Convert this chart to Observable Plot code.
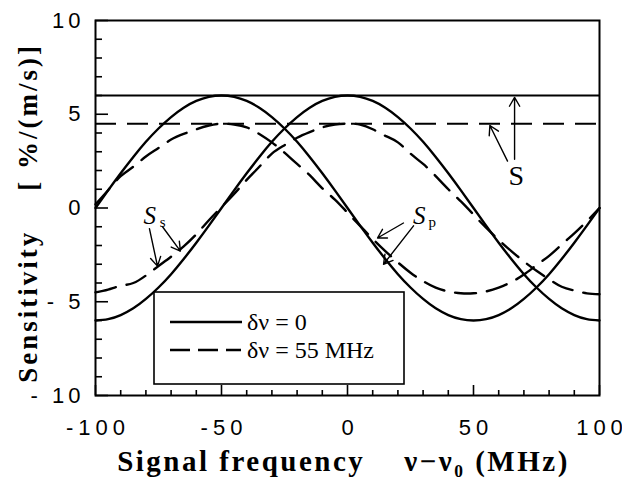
<!DOCTYPE html>
<html><head><meta charset="utf-8">
<script src="https://cdn.jsdelivr.net/npm/d3@7"></script>
<script src="https://cdn.jsdelivr.net/npm/@observablehq/plot@0.6"></script>
<style>
body{margin:0;background:#fff;}
#chart{position:relative;width:622px;height:486px;}
</style></head><body><div id="chart"></div>
<script>
// Signal frequency ν−ν0 (MHz)
const freq = [-100,-95,-90,-85,-80,-75,-70,-65,-60,-55,-50,-45,-40,-35,-30,-25,-20,-15,-10,-5,0,5,10,15,20,25,30,35,40,45,50,55,60,65,70,75,80,85,90,95,100];
// δν = 0 (solid)
const ssSolid = [0,0.94,1.85,2.72,3.53,4.24,4.85,5.35,5.71,5.93,6,5.93,5.71,5.35,4.85,4.24,3.53,2.72,1.85,0.94,0,-0.94,-1.85,-2.72,-3.53,-4.24,-4.85,-5.35,-5.71,-5.93,-6,-5.93,-5.71,-5.35,-4.85,-4.24,-3.53,-2.72,-1.85,-0.94,0];
const spSolid = [-6,-5.93,-5.71,-5.35,-4.85,-4.24,-3.53,-2.72,-1.85,-0.94,0,0.94,1.85,2.72,3.53,4.24,4.85,5.35,5.71,5.93,6,5.93,5.71,5.35,4.85,4.24,3.53,2.72,1.85,0.94,0,-0.94,-1.85,-2.72,-3.53,-4.24,-4.85,-5.35,-5.71,-5.93,-6];
// δν = 55 MHz (dashed)
const ssDash = [0.2,0.95,1.7,2.2,2.75,3.2,3.65,3.95,4.2,4.4,4.5,4.45,4.3,3.95,3.5,2.95,2.35,1.75,1.05,0.45,-0.25,-0.95,-1.65,-2.3,-2.9,-3.45,-3.9,-4.25,-4.45,-4.55,-4.55,-4.45,-4.25,-3.95,-3.55,-3.05,-2.55,-1.95,-1.35,-0.7,0.0];
const spDash = [-4.5,-4.35,-4.15,-4.0,-3.6,-3.1,-2.6,-2.05,-1.4,-0.65,0.05,0.75,1.5,2.2,2.9,3.35,3.75,4.05,4.3,4.45,4.5,4.45,4.2,3.85,3.5,2.9,2.35,1.7,1.0,0.35,-0.35,-1.05,-1.7,-2.3,-2.85,-3.35,-3.8,-4.2,-4.4,-4.55,-4.6];
// total sensitivity S
const sTotalSolid = [6];
const sTotalDash = [4.5];

// ticks
const xMajor = [-100,-50,0,50,100];
const xMinor = [-90,-80,-70,-60,-40,-30,-20,-10,10,20,30,40,60,70,80,90];
const yMajor = [-10,-5,0,5,10];
const yMinor = [-9,-8,-7,-6,-4,-3,-2,-1,1,2,3,4,6,7,8,9];

// annotations
const labelS = [{x:67, y:1.7, t:"S"}];
const labelSub = [{x:-78.5, y:-0.4, t:"S", sub:"s"}, {x:28.5, y:-0.4, t:"S", sub:"p"}];
const arrows = [
  {x1:66.3,y1:2.6,x2:66.3,y2:5.9},
  {x1:63.5,y1:2.5,x2:56.5,y2:4.4},
  {x1:-78.6,y1:-1.1,x2:-75.4,y2:-3.1},
  {x1:-73.4,y1:-1.0,x2:-66.3,y2:-2.3},
  {x1:22.2,y1:-0.8,x2:11.9,y2:-1.6},
  {x1:26.2,y1:-0.95,x2:14.3,y2:-3.0}
];
const xTitle = "Signal frequency\u00a0\u00a0\u00a0\u00a0ν−ν\u2080 (MHz)";
const yTitle = "Sensitivity\u00a0\u00a0\u00a0\u00a0[\u00a0%/(m/s)]";
const legendItems = ["δν = 0", "δν = 55 MHz"];

const solidRows = [], dashRows = [];
freq.forEach((f,i) => {
  solidRows.push({x:f, y:ssSolid[i], k:"Ss"});
  dashRows.push({x:f, y:ssDash[i], k:"Ss"});
});
freq.forEach((f,i) => {
  solidRows.push({x:f, y:spSolid[i], k:"Sp"});
  dashRows.push({x:f, y:spDash[i], k:"Sp"});
});

const tickFmtY = d => d < 0 ? "-\u00a0" + Math.abs(d) : String(d);

const plot = Plot.plot({
  width: 622, height: 486,
  marginLeft: 95, marginRight: 23, marginTop: 20, marginBottom: 91,
  x: {domain: [-100, 100]},
  y: {domain: [-10, 10]},
  style: {fontFamily: "Liberation Sans", background: "white", color: "black"},
  marks: [
    Plot.ruleY(sTotalSolid, {stroke: "black", strokeWidth: 2}),
    Plot.ruleY(sTotalDash, {stroke: "black", strokeWidth: 2, strokeDasharray: "21,11"}),
    Plot.line(solidRows, {x: "x", y: "y", z: "k", curve: "natural", stroke: "black", strokeWidth: 2.4}),
    Plot.line(dashRows, {x: "x", y: "y", z: "k", curve: "natural", stroke: "black", strokeWidth: 2.4, strokeDasharray: "21,11"}),
    Plot.frame({stroke: "black", strokeWidth: 2}),
    // inward ticks
    Plot.axisY({ticks: yMinor, tickSize: 7, dx: 7, text: null, strokeWidth: 1.6}),
    Plot.axisY({ticks: yMajor, tickSize: 13, dx: 13, text: null, strokeWidth: 1.6}),
    Plot.axisX({ticks: xMinor, tickSize: 5, dy: -5, text: null, strokeWidth: 1.6}),
    Plot.axisX({ticks: xMajor, tickSize: 10, dy: -10, text: null, strokeWidth: 1.6}),
    // tick labels
    Plot.axisY({ticks: yMajor, tickSize: 0, tickPadding: 11, tickFormat: tickFmtY, fontSize: 22, label: null}),
    Plot.axisX({ticks: xMajor, tickSize: 0, tickPadding: 24, tickFormat: d => String(d), fontSize: 22, label: null}),
    // titles
    Plot.text([xTitle], {frameAnchor: "bottom", dy: 75, dx: -4, text: d => d, fontSize: 29, fontWeight: "bold", fontFamily: "Liberation Serif"}),
    Plot.text([yTitle], {frameAnchor: "left", textAnchor: "middle", dx: -67, dy: 5, rotate: -90, text: d => d, fontSize: 27, fontWeight: "bold", fontFamily: "Liberation Serif"}),
    // annotations
    Plot.arrow(arrows, {x1: "x1", y1: "y1", x2: "x2", y2: "y2", stroke: "black", strokeWidth: 1.4, headLength: 11}),
    Plot.text(labelS, {x: "x", y: "y", text: "t", fontSize: 28, fontFamily: "Liberation Serif"}),
    Plot.text(labelSub, {x: "x", y: "y", text: "t", fontSize: 25, fontStyle: "italic", fontFamily: "Liberation Serif"}),
    Plot.text(labelSub, {x: "x", y: "y", text: "sub", dx: 13, dy: 7, fontSize: 15, fontFamily: "Liberation Serif"})
  ]
});

const svg = d3.select(plot);
svg.selectAll('g[aria-label="y-axis tick label"] text').style("letter-spacing", "4px");
svg.selectAll('g[aria-label="x-axis tick label"] text').style("letter-spacing", "5px").attr("transform", function(){ return (d3.select(this).attr("transform")||"") + " translate(2.5,0)"; });
svg.selectAll('g[aria-label="text"] text').each(function(){
  const t = d3.select(this).text();
  if (t === xTitle) d3.select(this).style("letter-spacing", "2.5px");
  if (t === yTitle) d3.select(this).style("letter-spacing", "3px");
});

// legend box (inside plot area, lower middle)
const lg = svg.append("g").attr("aria-label", "legend").attr("text-anchor", "start");
lg.append("rect").attr("x", 154).attr("y", 292).attr("width", 250).attr("height", 92)
  .attr("fill", "white").attr("stroke", "black").attr("stroke-width", 1.6);
lg.append("line").attr("x1", 170).attr("x2", 242).attr("y1", 322).attr("y2", 322)
  .attr("stroke", "black").attr("stroke-width", 2.4);
lg.append("line").attr("x1", 170).attr("x2", 241).attr("y1", 350).attr("y2", 350)
  .attr("stroke", "black").attr("stroke-width", 2.4).attr("stroke-dasharray", "20,8");
legendItems.forEach((t, i) => {
  lg.append("text").attr("x", 247).attr("y", 330 + i * 28).text(t)
    .attr("text-anchor", "start")
    .attr("font-family", "Liberation Serif").attr("font-size", 24).attr("fill", "black");
});

document.getElementById("chart").appendChild(plot);
</script>
</body></html>
